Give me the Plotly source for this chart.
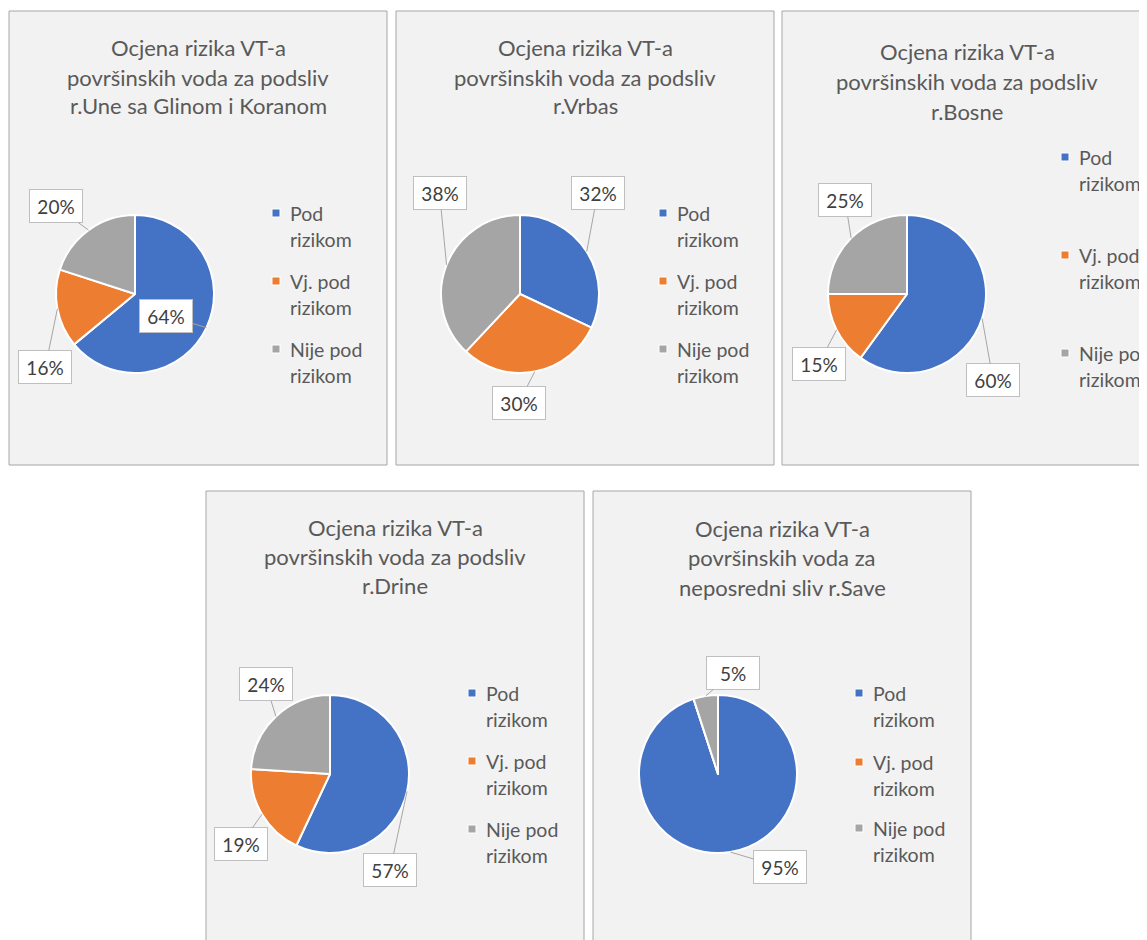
import math
import plotly.graph_objects as go

W, H = 1147, 940
OFF = 8  # page body margin

# ---------------- data ----------------
categories = ["Pod rizikom", "Vj. pod rizikom", "Nije pod rizikom"]
legend_lines = [["Pod", "rizikom"], ["Vj. pod", "rizikom"], ["Nije pod", "rizikom"]]
colors = ["#4472c4", "#ed7d31", "#a5a5a5"]

title_une = ["Ocjena rizika VT-a", "površinskih voda za podsliv", "r.Une sa Glinom i Koranom"]
title_vrbas = ["Ocjena rizika VT-a", "površinskih voda za podsliv", "r.Vrbas"]
title_bosne = ["Ocjena rizika VT-a", "površinskih voda za podsliv", "r.Bosne"]
title_drine = ["Ocjena rizika VT-a", "površinskih voda za podsliv", "r.Drine"]
title_save = ["Ocjena rizika VT-a", "površinskih voda za", "neposredni sliv r.Save"]

values_une = [64, 16, 20]
values_vrbas = [32, 30, 38]
values_bosne = [60, 15, 25]
values_drine = [57, 19, 24]
values_save = [95, 0, 5]

# ---------------- layout (pixel geometry) ----------------
panels = [
    dict(title=title_une, values=values_une, box=(9, 11, 387, 465), center=(135, 294),
         title_y=[47, 77, 106], title_x=198,
         leg_x=288, leg_y=[213, 281, 349],
         offsets=[(-40, -12), (-12, 58), (-33, -24)]),
    dict(title=title_vrbas, values=values_vrbas, box=(396, 11, 774, 465), center=(520, 294),
         title_y=[47, 77, 106], title_x=585,
         leg_x=675, leg_y=[213, 281, 349],
         offsets=[(11, -59), (-16, 31), (-7, -72)]),
    dict(title=title_bosne, values=values_bosne, box=(782, 11, 1170, 465), center=(907, 294),
         title_y=[52, 82, 112], title_x=967,
         leg_x=1077, leg_y=[157, 255, 353],
         offsets=[(11, 62), (-18, 34), (-6, -38)]),
    dict(title=title_drine, values=values_drine, box=(206, 491, 584, 960), center=(330, 774),
         title_y=[527, 556, 585], title_x=395,
         leg_x=484, leg_y=[693, 761, 829],
         offsets=[(-17, 79), (-21, 30), (-10, -32)]),
    dict(title=title_save, values=values_save, box=(593, 491, 971, 960), center=(718, 774),
         title_y=[528, 557, 587], title_x=782,
         leg_x=871, leg_y=[693, 762, 828],
         offsets=[(50, 15), (0, 0), (27, -23)]),
]
R = 79
LINE_GAP = 26
TEXT = "#595959"
FONT = "Lato"


def px(x):
    return (x - OFF) / W


def py(y):
    return 1 - (y - OFF) / H


fig = go.Figure()
shapes = []
annotations = []

for p in panels:
    x0, y0, x1, y1 = p["box"]
    shapes.append(dict(type="rect", xref="paper", yref="paper",
                       x0=px(x0), x1=px(x1), y0=py(y1), y1=py(y0),
                       fillcolor="#f2f2f2", line=dict(color="#a6a6a6", width=1),
                       layer="below"))
    cx, cy = p["center"]
    fig.add_trace(go.Pie(
        values=p["values"], labels=categories, sort=False, direction="clockwise",
        rotation=0, textinfo="none", showlegend=False,
        marker=dict(colors=colors, line=dict(color="white", width=2)),
        domain=dict(x=[px(cx - R), px(cx + R)], y=[py(cy + R), py(cy - R)]),
    ))
    # titles
    for line, ty in zip(p["title"], p["title_y"]):
        annotations.append(dict(text=line, x=px(p["title_x"]), y=py(ty), xref="paper", yref="paper",
                                showarrow=False, xanchor="center", yanchor="middle",
                                font=dict(family=FONT, size=22, color=TEXT)))
    # legend
    for k, (lines, ly) in enumerate(zip(legend_lines, p["leg_y"])):
        mx = p["leg_x"] - 12
        shapes.append(dict(type="rect", xref="paper", yref="paper",
                           x0=px(mx - 4), x1=px(mx + 4), y0=py(ly + 4), y1=py(ly - 4),
                           fillcolor=colors[k], line=dict(color="white", width=1)))
        for j, t in enumerate(lines):
            annotations.append(dict(text=t, x=px(p["leg_x"]), y=py(ly + j * LINE_GAP),
                                    xref="paper", yref="paper", showarrow=False,
                                    xanchor="left", yanchor="middle",
                                    font=dict(family=FONT, size=19.5, color=TEXT)))
    # data labels (callouts)
    total = sum(p["values"])
    cum = 0
    for v, (ax, ay) in zip(p["values"], p["offsets"]):
        if v > 0:
            a = math.radians((cum + v / 2) / total * 360)
            tx = cx + R * math.sin(a)
            ty = cy - R * math.cos(a)
            annotations.append(dict(
                text=f"{round(v / total * 100)}%", x=px(tx), y=py(ty), xref="paper", yref="paper",
                ax=ax, ay=ay, showarrow=True, arrowhead=0, arrowwidth=1, arrowcolor="#a6a6a6",
                bgcolor="white", bordercolor="#bfbfbf", borderwidth=1, borderpad=4,
                width=44, height=24,
                font=dict(family=FONT, size=19, color="#404040")))
        cum += v

fig.update_layout(width=W, height=H, margin=dict(l=0, r=0, t=0, b=0),
                  paper_bgcolor="white", plot_bgcolor="white",
                  shapes=shapes, annotations=annotations)
fig.write_html("out.html")
